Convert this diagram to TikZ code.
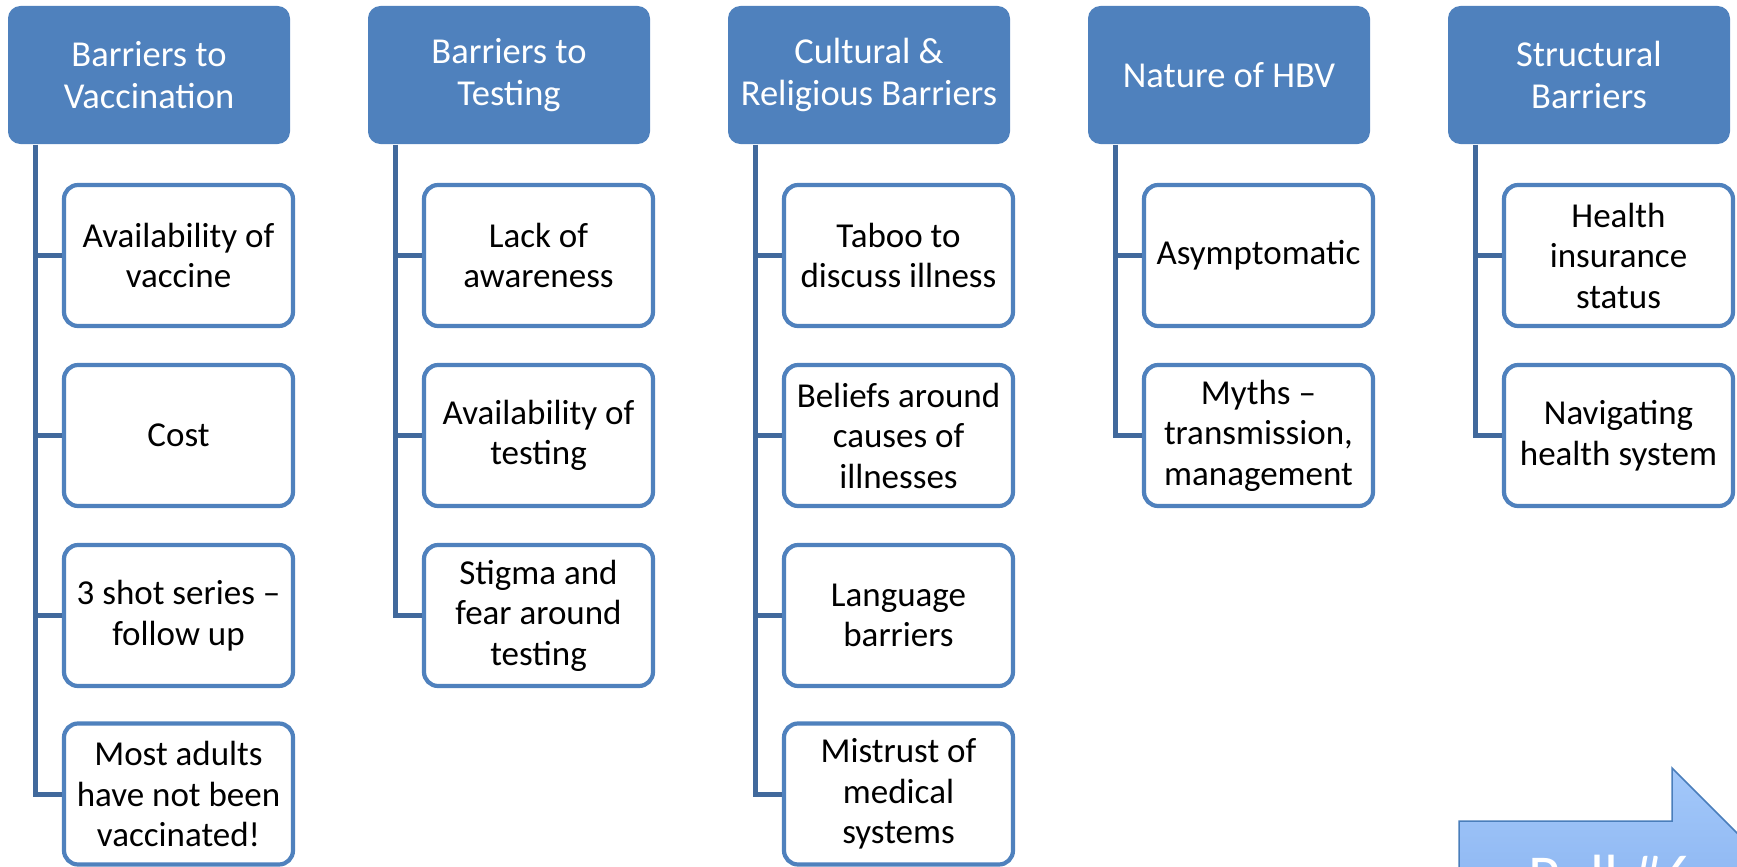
\documentclass[tikz,border=0pt]{standalone}
\usepackage{fontspec}
\setmainfont{Carlito}
\definecolor{hdrblue}{HTML}{4F81BD}
\definecolor{linkblue}{HTML}{41699C}
\definecolor{arrowtop}{HTML}{A3C8FA}
\definecolor{arrowbot}{HTML}{6F9EE6}
\definecolor{arrowedge}{HTML}{4A7EBB}
\begin{document}
\begin{tikzpicture}[x=1pt,y=-1pt,
  header/.style={fill=hdrblue, draw=hdrblue, line width=1pt, rounded corners=12pt,
    minimum width=281pt, minimum height=137pt, align=center, text=white,
    font=\fontsize{36.5}{42}\selectfont, inner sep=0pt},
  item/.style={fill=white, draw=hdrblue, line width=4.2pt, rounded corners=14pt,
    minimum width=229pt, minimum height=141pt, align=center, text=black,
    font=\fontsize{35}{40.5}\selectfont, inner sep=0pt},
  link/.style={draw=linkblue, line width=5pt, line join=miter}]
\useasboundingbox (0,0) rectangle (1737,867);
\clip (0,0) rectangle (1737,867);

% column headers
\node[header] (h1) at (149,75)  {Barriers to\\Vaccination};
\node[header] (h2) at (509,75)  {Barriers to\\Testing};
\node[header] (h3) at (869,75)  {Cultural \&\\Religious Barriers};
\node[header] (h4) at (1229,75) {Nature of HBV};
\node[header] (h5) at (1589,75) {Structural\\Barriers};

% column 1
\node[item] (c1a) at (178.5,255.5) {Availability of\\vaccine};
\node[item] (c1b) at (178.5,435.5) {Cost};
\node[item] (c1c) at (178.5,615.5) {3 shot series --\\follow up};
\node[item] (c1d) at (178.5,794)   {Most adults\\have not been\\vaccinated!};
% column 2
\node[item] (c2a) at (538.5,255.5) {Lack of\\awareness};
\node[item] (c2b) at (538.5,435.5) {Availability of\\testing};
\node[item] (c2c) at (538.5,615.5) {Stigma and\\fear around\\testing};
% column 3
\node[item] (c3a) at (898.5,255.5) {Taboo to\\discuss illness};
\node[item] (c3b) at (898.5,435.5) {Beliefs around\\causes of\\illnesses};
\node[item] (c3c) at (898.5,615.5) {Language\\barriers};
\node[item] (c3d) at (898.5,794)   {Mistrust of\\medical\\systems};
% column 4
\node[item] (c4a) at (1258.5,255.5) {Asymptomatic};
\node[item] (c4b) at (1258.5,435.5) {Myths --\\transmission,\\management};
% column 5
\node[item] (c5a) at (1618.5,255.5) {Health\\insurance\\status};
\node[item] (c5b) at (1618.5,435.5) {Navigating\\health system};

% connectors: trunk from each header down to its last item, branches to the others
\foreach \h/\last/\others in {h1/c1d/{c1a,c1b,c1c}, h2/c2c/{c2a,c2b}, h3/c3d/{c3a,c3b,c3c}, h4/c4b/{c4a}, h5/c5b/{c5a}}{
  \draw[link] ([xshift=27pt,yshift=-0.5pt]\h.south west) |- (\last.west);
  \foreach \c in \others {
    \draw[link] ([xshift=27pt]\h.south west |- \c.west) -- (\c.west);
  }
}

% block arrow in the lower right corner, running off the page
\path[top color=arrowtop, bottom color=arrowbot, draw=arrowedge, line width=1.5pt]
  (1459,821) -- (1672,821) -- (1672,768) -- (1824,920) -- (1672,1072)
  -- (1672,1019) -- (1459,1019) -- cycle;
\node[anchor=base west, inner sep=0pt, text=white, font=\fontsize{61}{70}\selectfont]
  (poll) at (1528,897) {Poll \#6};
\end{tikzpicture}
\end{document}
